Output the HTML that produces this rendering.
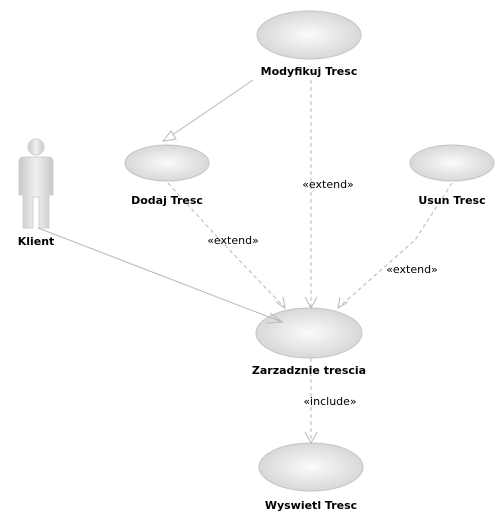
<!DOCTYPE html>
<html><head><meta charset="utf-8"><style>
body{margin:0;background:#fff}
svg text{font-family:"DejaVu Sans","Liberation Sans",sans-serif;font-size:11px;fill:#000}
.b{font-weight:bold}
</style></head><body>
<svg width="503" height="525" viewBox="0 0 503 525" xmlns="http://www.w3.org/2000/svg">
<defs>
<radialGradient id="g" cx="50%" cy="50%" r="50%"><stop offset="0" stop-color="#fbfbfb"/><stop offset="1" stop-color="#d8d8d8"/></radialGradient>
<linearGradient id="a" x1="0" y1="0" x2="1" y2="0"><stop offset="0" stop-color="#c8c8c8"/><stop offset="0.5" stop-color="#f0f0f0"/><stop offset="1" stop-color="#c8c8c8"/></linearGradient>
</defs>
<g fill="url(#g)" stroke="#c4c4c4">
<ellipse cx="309" cy="35" rx="52" ry="24"/>
<ellipse cx="167" cy="163" rx="42" ry="18"/>
<ellipse cx="452" cy="163" rx="42" ry="18"/>
<ellipse cx="309" cy="333" rx="53" ry="25"/>
<ellipse cx="311" cy="467" rx="52" ry="24"/>
</g>
<g fill="url(#a)" stroke="#d0d0d0">
<circle cx="36" cy="147" r="8"/>
<path d="M24 157 H48 Q53 157 53 162 V195 H49 V228 H39 V197 H33 V228 H23 V195 H19 V162 Q19 157 24 157Z"/>
</g>
<g stroke="#b8b8b8" fill="none">
<line x1="253" y1="80" x2="168" y2="138"/>
<path d="M163 141 L171 131 L176 139 Z" fill="#fff"/>
<line x1="38" y1="228" x2="282" y2="322"/>
<path d="M270 313 L282 322 L267 323"/>
<g stroke-dasharray="4,3">
<line x1="311" y1="80" x2="311" y2="308"/>
<path d="M168 183 L220 240 L285 308"/>
<path d="M452 183 L415 240 L338 308"/>
<line x1="311" y1="358" x2="311" y2="442"/>
</g>
<path d="M305 297 L311 308 L317 297"/>
<path d="M276 302 L285 308 L283 297"/>
<path d="M340 297 L338 308 L348 302"/>
<path d="M305 432 L311 443 L317 432"/>
</g>
<g text-anchor="middle">
<text class="b" x="309" y="75">Modyfikuj Tresc</text>
<text class="b" x="167" y="204">Dodaj Tresc</text>
<text class="b" x="452" y="204">Usun Tresc</text>
<text class="b" x="309" y="374">Zarzadznie trescia</text>
<text class="b" x="311" y="509">Wyswietl Tresc</text>
<text class="b" x="36" y="245">Klient</text>
<text x="328" y="188">«extend»</text>
<text x="233" y="244">«extend»</text>
<text x="412" y="273">«extend»</text>
<text x="330" y="405">«include»</text>
</g>
</svg>
</body></html>
